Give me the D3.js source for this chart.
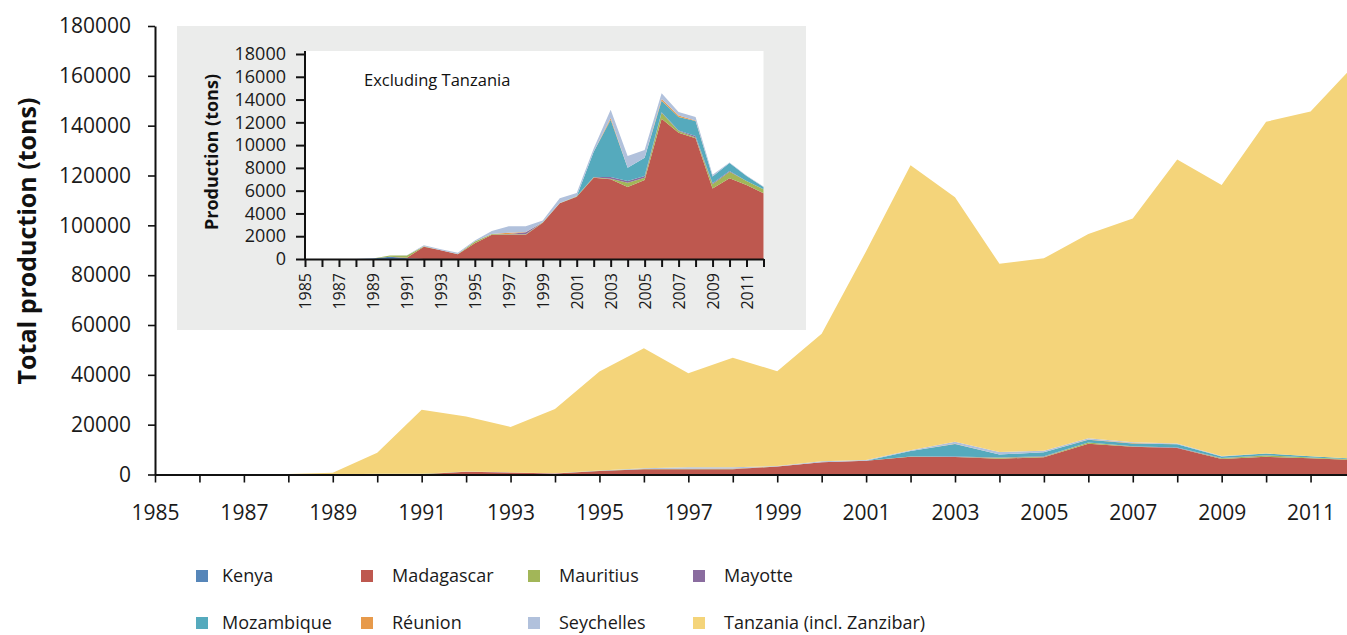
<!DOCTYPE html>
<html>
<head>
<meta charset="utf-8">
<script src="https://cdn.jsdelivr.net/npm/d3@7"></script>
<style>
  html, body { margin: 0; padding: 0; background: #fff; }
  svg { display: block; font-family: "Open Sans", "Noto Sans", sans-serif; }
</style>
</head>
<body>
<svg id="chart" width="1347" height="635"></svg>
<script>
// Annual production (tons) by country, 1985–2012
const years = [1985, 1986, 1987, 1988, 1989, 1990, 1991, 1992, 1993, 1994, 1995, 1996, 1997, 1998,
               1999, 2000, 2001, 2002, 2003, 2004, 2005, 2006, 2007, 2008, 2009, 2010, 2011, 2012];

const kenya      = [0, 0, 0, 0, 50, 200, 60, 0, 0, 0, 0, 0, 0, 0,
                    0, 0, 0, 0, 0, 0, 0, 0, 0, 0, 0, 0, 0, 0];
const madagascar = [0, 0, 0, 0, 0, 0, 50, 1080, 760, 410, 1380, 2140, 2140, 2140,
                    3190, 4890, 5470, 7140, 7000, 6320, 6940, 12320, 11090, 10600, 6180, 7080, 6500, 5770];
const mauritius  = [0, 0, 0, 0, 0, 100, 200, 30, 0, 20, 150, 50, 30, 30,
                    30, 30, 30, 40, 50, 380, 200, 530, 150, 60, 380, 590, 350, 350];
const mayotte    = [0, 0, 0, 0, 0, 0, 0, 0, 0, 0, 0, 0, 30, 170,
                    0, 0, 0, 30, 150, 150, 150, 30, 50, 150, 100, 50, 0, 0];
const mozambique = [0, 0, 0, 0, 0, 0, 0, 0, 0, 0, 0, 0, 0, 0,
                    0, 0, 0, 2200, 5030, 1170, 1610, 1020, 1170, 1310, 580, 700, 440, 200];
const reunion    = [0, 0, 0, 0, 0, 0, 0, 0, 0, 0, 0, 0, 110, 30,
                    0, 0, 0, 0, 150, 0, 0, 150, 150, 50, 0, 0, 0, 0];
const seychelles = [0, 0, 0, 0, 0, 0, 20, 90, 90, 120, 90, 270, 560, 500,
                    150, 410, 300, 290, 720, 1020, 670, 500, 290, 300, 150, 50, 50, 50];
const tanzania   = [0, 0, 0, 200, 650, 8400, 25700, 22100, 18250, 25750, 39700, 48200, 37800, 44000,
                    38100, 51200, 83800, 114400, 98200, 75500, 77200, 81950, 89800, 114000, 108800, 133100, 138300, 158300];

const countries = ["Kenya", "Madagascar", "Mauritius", "Mayotte", "Mozambique", "Réunion", "Seychelles", "Tanzania (incl. Zanzibar)"];
const seriesValues = [kenya, madagascar, mauritius, mayotte, mozambique, reunion, seychelles, tanzania];
const colors = ["#5686b9", "#be584f", "#a2b658", "#8a6c9f", "#55aabd", "#e79a4b", "#b1c1dc", "#f4d47a"];

const mainYTicks = [0, 20000, 40000, 60000, 80000, 100000, 120000, 140000, 160000, 180000];
const insetYTicks = [0, 2000, 4000, 6000, 8000, 10000, 12000, 14000, 16000, 18000];
const labelYears = [1985, 1987, 1989, 1991, 1993, 1995, 1997, 1999, 2001, 2003, 2005, 2007, 2009, 2011];

// Row-per-year table for d3.stack
const table = years.map((yr, i) => {
  const row = { year: yr };
  countries.forEach((c, k) => { row[c] = seriesValues[k][i]; });
  return row;
});

const colorOf = d3.scaleOrdinal().domain(countries).range(colors);
const svg = d3.select("#chart");

// ---------- Main chart: all countries ----------
const x = d3.scaleLinear().domain([1985, 2012]).range([155, 1355]);
const y = d3.scaleLinear().domain([0, 180000]).range([474.5, 26]);

const stackAll = d3.stack().keys(countries)(table);
const area = (xs, ys) => d3.area()
  .x(d => xs(d.data.year))
  .y0(d => ys(d[0]))
  .y1(d => ys(d[1]));

svg.append("g")
  .selectAll("path")
  .data(stackAll)
  .join("path")
  .attr("fill", d => colorOf(d.key))
  .attr("d", area(x, y));

const yAxis = svg.append("g")
  .attr("transform", "translate(155,0)")
  .call(d3.axisLeft(y).tickValues(mainYTicks).tickFormat(d3.format("d")).tickSize(7).tickPadding(17).tickSizeOuter(0));
yAxis.selectAll("text").attr("font-size", 21).attr("fill", "#1a1a1a");

const xAxis = svg.append("g")
  .attr("transform", "translate(0,474.5)")
  .call(d3.axisBottom(x).tickValues(years)
    .tickFormat(d => labelYears.includes(d) ? String(d) : "")
    .tickSize(8).tickPadding(23).tickSizeOuter(0));
xAxis.selectAll("text").attr("font-size", 21).attr("fill", "#1a1a1a");

[yAxis, xAxis].forEach(g => {
  g.select(".domain").attr("stroke", "#111").attr("stroke-width", 2);
  g.selectAll(".tick line").attr("stroke", "#111").attr("stroke-width", 1.6);
  g.attr("font-family", null);
});

svg.append("text")
  .attr("transform", "translate(36,241) rotate(-90)")
  .attr("text-anchor", "middle")
  .attr("font-size", 25)
  .attr("font-weight", 700)
  .attr("fill", "#111")
  .text("Total production (tons)");

// ---------- Inset: excluding Tanzania ----------
const insetKeys = countries.slice(0, 7);
const stackInset = d3.stack().keys(insetKeys)(table);

const ix = d3.scaleLinear().domain([1985, 2012]).range([305, 763.5]);
const iy = d3.scaleLinear().domain([0, 18000]).range([259, 54]);

const inset = svg.append("g");
inset.append("rect")
  .attr("x", 177).attr("y", 26).attr("width", 629).attr("height", 304)
  .attr("fill", "#ebeceb");
inset.append("rect")
  .attr("x", ix(1985)).attr("y", 51)
  .attr("width", ix(2012) - ix(1985)).attr("height", iy(0) - 51)
  .attr("fill", "#fff");

inset.append("g")
  .selectAll("path")
  .data(stackInset)
  .join("path")
  .attr("fill", d => colorOf(d.key))
  .attr("d", area(ix, iy));

const iyAxis = inset.append("g")
  .attr("transform", `translate(${ix(1985)},0)`)
  .call(d3.axisLeft(iy).tickValues(insetYTicks).tickFormat(d3.format("d")).tickSize(9).tickPadding(10).tickSizeOuter(0));
iyAxis.selectAll("text").attr("font-size", 18).attr("fill", "#1a1a1a");

const ixAxis = inset.append("g")
  .attr("transform", `translate(0,${iy(0)})`)
  .call(d3.axisBottom(ix).tickValues(years)
    .tickFormat(d => labelYears.includes(d) ? String(d) : "")
    .tickSize(8).tickPadding(6).tickSizeOuter(0));
ixAxis.selectAll("text")
  .attr("font-size", 16)
  .attr("fill", "#1a1a1a")
  .attr("text-anchor", "end")
  .attr("transform", "rotate(-90)")
  .attr("x", -14)
  .attr("y", 0)
  .attr("dy", "0.35em");

[iyAxis, ixAxis].forEach(g => {
  g.select(".domain").attr("stroke", "#111").attr("stroke-width", 2);
  g.selectAll(".tick line").attr("stroke", "#111").attr("stroke-width", 2);
  g.attr("font-family", null);
});
iyAxis.select(".domain").attr("d", `M0,${iy(0)}V51`);

inset.append("text")
  .attr("transform", "translate(218,152) rotate(-90)")
  .attr("text-anchor", "middle")
  .attr("font-size", 18)
  .attr("font-weight", 700)
  .attr("fill", "#111")
  .text("Production (tons)");

inset.append("text")
  .attr("x", 364).attr("y", 86)
  .attr("font-size", 16.5)
  .attr("fill", "#111")
  .text("Excluding Tanzania");

// ---------- Legend ----------
const squareX = [196, 361, 528, 693];
const textX = [222, 392, 559, 724];
const rowY = [576, 623];

const legend = svg.append("g")
  .selectAll("g")
  .data(countries)
  .join("g");
legend.append("rect")
  .attr("x", (d, i) => squareX[i % 4])
  .attr("y", (d, i) => rowY[Math.floor(i / 4)] - 6)
  .attr("width", 12).attr("height", 12)
  .attr("fill", d => colorOf(d));
legend.append("text")
  .attr("x", (d, i) => textX[i % 4])
  .attr("y", (d, i) => rowY[Math.floor(i / 4)])
  .attr("dy", "0.35em")
  .attr("font-size", 18)
  .attr("fill", "#1a1a1a")
  .text(d => d);
</script>
</body>
</html>
